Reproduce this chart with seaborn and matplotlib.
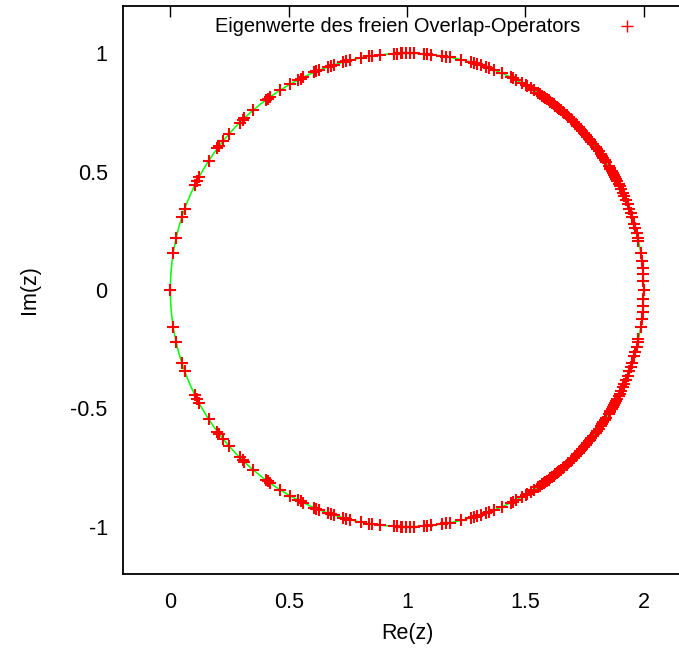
import numpy as np
import pandas as pd
import matplotlib
matplotlib.use("Agg")
import matplotlib.pyplot as plt
from matplotlib.patches import Circle
import seaborn as sns

# Phases (degrees) of the eigenvalues in the upper half plane, z = 1 + exp(i*phi).
# The spectrum is symmetric: every complex eigenvalue has its conjugate partner.
phase_deg = [
    180.0, 170.9, 167.4, 162.0, 159.9, 153.7, 152.5, 151.5, 147.0, 143.2,
    142.5, 141.0, 138.8, 135.0, 134.0, 133.5, 130.6, 126.7, 126.0, 125.3,
    122.4, 119.6, 117.4, 116.7, 116.0, 113.2, 112.5, 111.8, 109.6, 108.8,
    108.0, 105.8, 105.0, 104.0, 101.2, 99.2, 98.6, 96.5, 93.2, 92.5,
    91.5, 91.1, 90.3, 89.3, 88.3, 85.9, 85.1, 84.3, 81.4, 80.6,
    79.6, 76.8, 74.3, 73.5, 72.7, 71.9, 70.6, 69.8, 68.5, 66.4,
    64.0, 63.4, 62.7, 60.9, 59.9, 59.5, 58.5, 57.6, 56.5, 55.7,
    55.2, 54.7, 54.2, 53.7, 53.2, 52.7, 52.2, 51.7, 51.2, 50.8,
    50.3, 49.9, 49.5, 48.9, 48.3, 47.6, 47.0, 46.3, 45.8, 45.2,
    44.6, 44.0, 43.5, 42.9, 42.2, 41.6, 41.0, 40.4, 39.8, 39.3,
    38.8, 38.0, 37.2, 36.5, 35.9, 35.0, 34.5, 34.0, 33.3, 32.6,
    31.6, 31.1, 30.7, 30.2, 29.7, 29.0, 28.4, 27.9, 27.4, 26.6,
    26.0, 25.2, 24.3, 23.4, 22.3, 21.2, 20.1, 19.1, 18.0, 16.3,
    15.3, 14.0, 12.8, 12.0, 9.1, 7.1, 5.4, 3.8, 2.2, 0.0,
]

x_ticks = [0, 0.5, 1, 1.5, 2]
x_tick_labels = ["0", "0.5", "1", "1.5", "2"]
y_ticks = [-1, -0.5, 0, 0.5, 1]
y_tick_labels = ["-1", "-0.5", "0", "0.5", "1"]

legend_label = "Eigenwerte des freien Overlap-Operators"

# Build the full spectrum (upper half plus conjugates; real eigenvalues only once)
phi = np.deg2rad(np.array(phase_deg))
z_upper = 1.0 + np.exp(1j * phi)
z_lower = np.conj(z_upper[np.abs(z_upper.imag) > 1e-12])
z_all = np.concatenate([z_upper, z_lower])
df = pd.DataFrame({"Re": z_all.real, "Im": z_all.imag})

sns.set_style("white")
plt.rcParams["font.family"] = ["Liberation Sans", "DejaVu Sans"]
plt.rcParams.update({
    "text.color": "black",
    "axes.labelcolor": "black",
    "xtick.color": "black",
    "ytick.color": "black",
})

fig = plt.figure(figsize=(6.79, 6.48), dpi=100)
ax = fig.add_axes([123 / 679, 74 / 648, 568 / 679, 568 / 648])

# Ginsparg-Wilson circle |z - 1| = 1
ax.add_patch(Circle((1.0, 0.0), 1.0, fill=False, edgecolor="#00ff00",
                    linewidth=1.1, zorder=1))

sns.scatterplot(data=df, x="Re", y="Im", ax=ax, marker="+", color="#ff0000",
                s=72, linewidth=1.5, zorder=2, legend=False)

ax.set_xlim(-0.2, 2.2)
ax.set_ylim(-1.2, 1.2)
ax.set_xticks(x_ticks)
ax.set_xticklabels(x_tick_labels)
ax.set_yticks(y_ticks)
ax.set_yticklabels(y_tick_labels)
ax.tick_params(direction="in", length=8, width=1, top=True, right=True,
               labelsize=15.5, colors="black")
ax.tick_params(axis="x", pad=13)
ax.tick_params(axis="y", pad=11)
for s in ax.spines.values():
    s.set_color("black")
    s.set_linewidth(1.3)
ax.set_xlabel("Re(z)", fontsize=15.5, labelpad=7)
ax.set_ylabel("Im(z)", fontsize=15.5, labelpad=22)

handle = plt.Line2D([], [], linestyle="none", marker="+", color="#ff0000",
                    markersize=8, markeredgewidth=1.0)
fig.legend([handle], [legend_label], loc="center right",
           bbox_to_anchor=(647 / 679, 1 - 27 / 648), frameon=False,
           markerfirst=False, fontsize=14.4, handlelength=2.0,
           handletextpad=1.35, borderaxespad=0, borderpad=0)

fig.savefig("out.png", dpi=100)
